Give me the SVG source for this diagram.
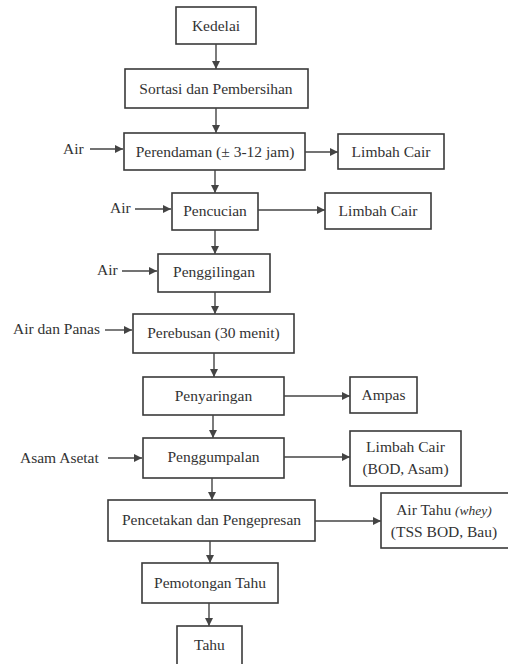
<svg xmlns="http://www.w3.org/2000/svg" width="508" height="664" viewBox="0 0 508 664">
<style>
rect.b{fill:#fff;stroke:#3a3a3a;stroke-width:1.6}
text{font-family:'Liberation Serif','Times New Roman',Times,'DejaVu Serif',serif;font-size:15.5px;fill:#333;text-anchor:middle}
text.l{text-anchor:start}
.c line{stroke:#444;stroke-width:1.4;fill:none}
</style>
<defs>
<marker id="a" viewBox="0 0 10 10" refX="10" refY="5" markerWidth="8" markerHeight="8" markerUnits="userSpaceOnUse" orient="auto"><path d="M0,0L10,5L0,10z" fill="#444"/></marker>
</defs>
<rect width="508" height="664" fill="#fff"/>
<g font-family="Liberation Serif, serif">
<g id="kedelai"><rect class="b" x="176" y="7" width="80" height="37"/><text x="216" y="31">Kedelai</text></g>
<g id="sortasi"><rect class="b" x="125" y="69" width="183" height="39"/><text x="216" y="94">Sortasi dan Pembersihan</text></g>
<g id="perendaman"><rect class="b" x="124" y="133" width="181" height="37"/><text x="215" y="157">Perendaman (± 3-12 jam)</text></g>
<g id="limbah1"><rect class="b" x="338" y="134" width="106" height="35"/><text x="391" y="157">Limbah Cair</text></g>
<g id="pencucian"><rect class="b" x="172" y="193" width="86" height="37"/><text x="215" y="216">Pencucian</text></g>
<g id="limbah2"><rect class="b" x="325" y="193" width="106" height="36"/><text x="378" y="216">Limbah Cair</text></g>
<g id="penggilingan"><rect class="b" x="158" y="254" width="112" height="38"/><text x="214" y="277">Penggilingan</text></g>
<g id="perebusan"><rect class="b" x="133" y="314" width="161" height="39"/><text x="213.5" y="338">Perebusan (30 menit)</text></g>
<g id="penyaringan"><rect class="b" x="143" y="377" width="141" height="38"/><text x="213.5" y="401">Penyaringan</text></g>
<g id="ampas"><rect class="b" x="350" y="377" width="67" height="36"/><text x="383.5" y="400">Ampas</text></g>
<g id="penggumpalan"><rect class="b" x="143" y="438" width="141" height="40"/><text x="213.5" y="462">Penggumpalan</text></g>
<g id="limbah3"><rect class="b" x="350" y="431" width="111" height="55"/><text x="405.5" y="452">Limbah Cair</text><text x="405.5" y="474">(BOD, Asam)</text></g>
<g id="pencetakan"><rect class="b" x="108" y="500" width="207" height="41"/><text x="211.5" y="525">Pencetakan dan Pengepresan</text></g>
<g id="airtahu"><rect class="b" x="381" y="493" width="132" height="55"/><text x="444" y="515">Air Tahu <tspan font-style="italic" font-size="13.5px">(whey)</tspan></text><text x="444" y="537">(TSS BOD, Bau)</text></g>
<g id="pemotongan"><rect class="b" x="142" y="563" width="136" height="40"/><text x="210" y="588">Pemotongan Tahu</text></g>
<g id="tahu"><rect class="b" x="177" y="626" width="65" height="44"/><text x="209.5" y="650">Tahu</text></g>
<g id="inputs">
<text class="l" x="63" y="154">Air</text>
<text class="l" x="110" y="213">Air</text>
<text class="l" x="97" y="275">Air</text>
<text class="l" x="13" y="334">Air dan Panas</text>
<text class="l" x="20" y="463">Asam Asetat</text>
</g>
</g>
<g class="c" marker-end="url(#a)">
<line x1="216" y1="44" x2="216" y2="69"/>
<line x1="216" y1="108" x2="216" y2="133"/>
<line x1="215" y1="170" x2="215" y2="193"/>
<line x1="215" y1="230" x2="215" y2="254"/>
<line x1="215" y1="292" x2="215" y2="314"/>
<line x1="214" y1="353" x2="214" y2="377"/>
<line x1="213" y1="415" x2="213" y2="438"/>
<line x1="212" y1="478" x2="212" y2="500"/>
<line x1="210" y1="541" x2="210" y2="563"/>
<line x1="209" y1="603" x2="209" y2="626"/>
<line x1="90" y1="149" x2="123" y2="149"/>
<line x1="305" y1="152" x2="338" y2="152"/>
<line x1="135" y1="209" x2="171" y2="209"/>
<line x1="258" y1="210" x2="325" y2="210"/>
<line x1="122" y1="271" x2="157" y2="271"/>
<line x1="105" y1="330" x2="132" y2="330"/>
<line x1="284" y1="396" x2="350" y2="396"/>
<line x1="108" y1="458" x2="142" y2="458"/>
<line x1="284" y1="457" x2="350" y2="457"/>
<line x1="315" y1="521" x2="381" y2="521"/>
</g>
</svg>
